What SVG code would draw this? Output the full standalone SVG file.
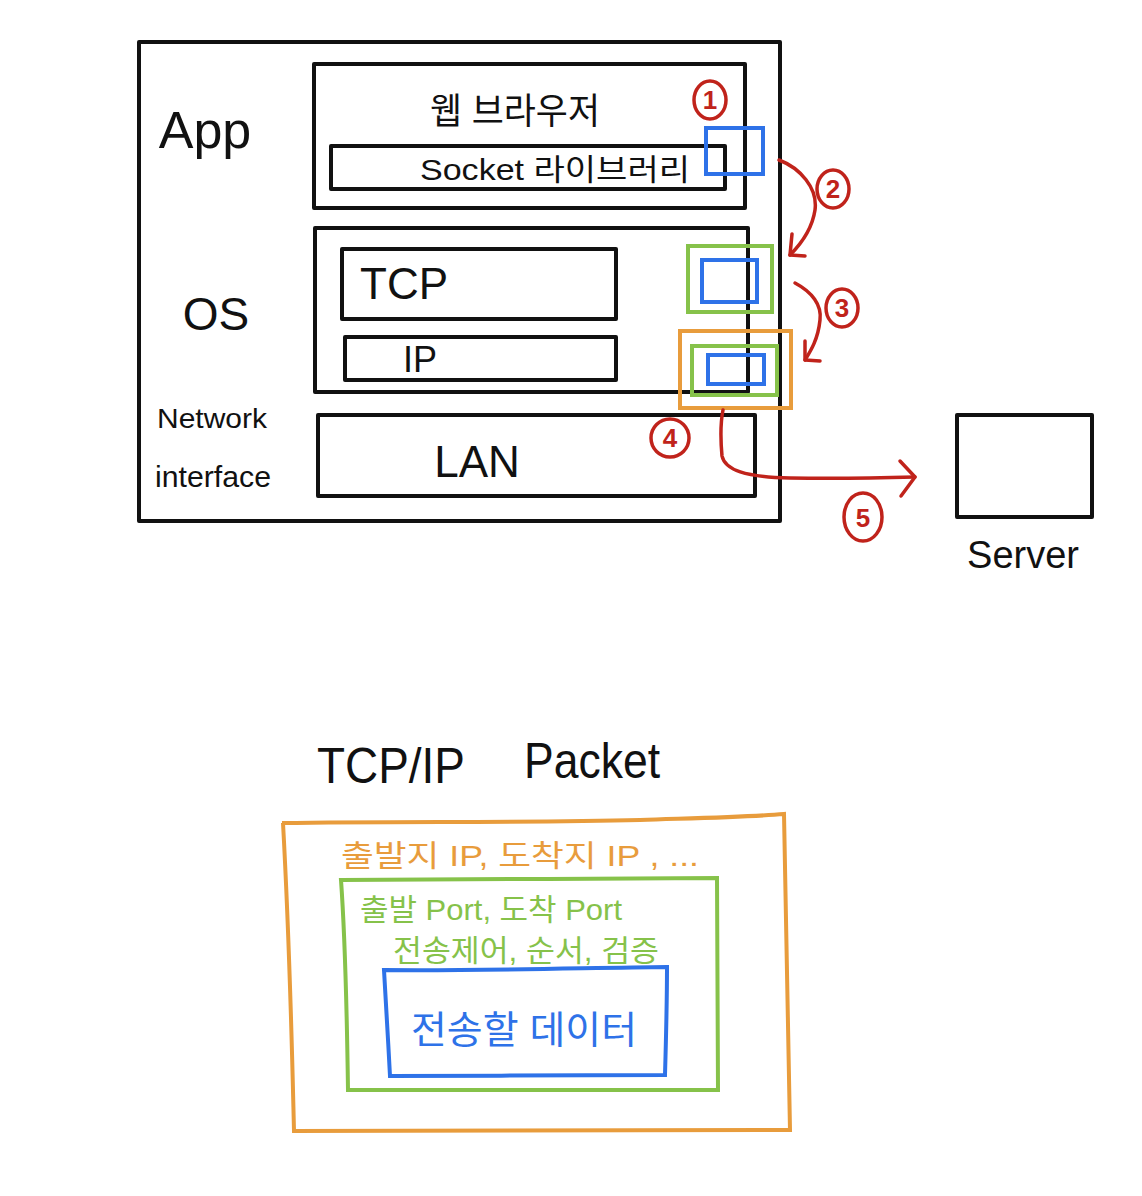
<svg xmlns="http://www.w3.org/2000/svg" width="1142" height="1196" viewBox="0 0 1142 1196">
<style>
.box{fill:none;stroke:#111;stroke-width:4;stroke-linejoin:round}
.blue{fill:none;stroke:#2E72E8;stroke-width:4}
.green{fill:none;stroke:#86C24A;stroke-width:4}
.orange{fill:none;stroke:#E89C3C;stroke-width:4}
.red{fill:none;stroke:#C0231B;stroke-width:3.5;stroke-linecap:round;stroke-linejoin:round}
.t{font-family:"Liberation Sans","Noto Sans CJK KR",sans-serif;fill:#111;text-anchor:middle}
.num{font-family:"Liberation Sans",sans-serif;fill:#C0231B;font-size:26px;text-anchor:middle;font-weight:bold}
</style>
<rect width="1142" height="1196" fill="#fff"/>

<g id="host">
  <rect class="box" x="139" y="42" width="641" height="479"/>
  <text class="t" x="205" y="148" font-size="52">App</text>
  <text class="t" x="216" y="330" font-size="46">OS</text>
  <text class="t" x="212" y="428" font-size="28" textLength="110" lengthAdjust="spacingAndGlyphs">Network</text>
  <text class="t" x="213" y="487" font-size="30" textLength="116" lengthAdjust="spacingAndGlyphs">interface</text>
</g>

<g id="app">
  <rect class="box" x="314" y="64" width="431" height="144"/>
  <text class="t" x="515" y="124" font-size="36" textLength="170" lengthAdjust="spacingAndGlyphs">웹 브라우저</text>
</g>
<g id="socket">
  <rect class="box" x="331" y="146" width="394" height="43"/>
  <text class="t" x="555" y="180" font-size="30" textLength="270" lengthAdjust="spacingAndGlyphs">Socket 라이브러리</text>
</g>

<g id="os">
  <rect class="box" x="315" y="228" width="433" height="164"/>
</g>
<g id="tcp">
  <rect class="box" x="342" y="249" width="274" height="70"/>
  <text class="t" x="404" y="299" font-size="44">TCP</text>
</g>
<g id="ip">
  <rect class="box" x="345" y="337" width="271" height="43"/>
  <text class="t" x="420" y="372" font-size="36">IP</text>
</g>
<g id="lan">
  <rect class="box" x="318" y="415" width="437" height="81"/>
  <text class="t" x="477" y="477" font-size="44">LAN</text>
</g>

<g id="server">
  <rect class="box" x="957" y="415" width="135" height="102"/>
  <text class="t" x="1023" y="568" font-size="38">Server</text>
</g>

<g id="markers">
  <rect class="blue" x="706" y="128" width="57" height="46"/>
  <rect class="green" x="688" y="246" width="84" height="66"/>
  <rect class="blue" x="702" y="260" width="55" height="42"/>
  <rect class="orange" x="680" y="331" width="111" height="77"/>
  <rect class="green" x="692" y="346" width="85" height="49"/>
  <rect class="blue" x="708" y="355" width="56" height="29"/>
</g>

<g id="connectors">
  <path class="red" d="M779 160 C800 168 818 188 815 210 C812 230 800 245 790 255"/>
  <path class="red" d="M792 234 L790 255 L805 256"/>
  <path class="red" d="M795 283 C812 292 822 305 820 320 C818 340 810 352 805 360"/>
  <path class="red" d="M805 341 L805 360 L820 361"/>
  <path class="red" d="M723 410 C720 425 721 445 722 456 C725 470 745 477 790 478 C840 479 880 478 915 477"/>
  <path class="red" d="M900 461 L915 477 L901 496"/>
</g>

<g id="step1"><ellipse class="red" cx="710" cy="100" rx="16" ry="19"/><text class="num" x="710" y="109">1</text></g>
<g id="step2"><ellipse class="red" cx="833" cy="189" rx="16" ry="19"/><text class="num" x="833" y="198">2</text></g>
<g id="step3"><ellipse class="red" cx="842" cy="308" rx="16" ry="19"/><text class="num" x="842" y="317">3</text></g>
<g id="step4"><ellipse class="red" cx="670" cy="438" rx="19" ry="19"/><text class="num" x="670" y="447">4</text></g>
<g id="step5"><ellipse class="red" cx="863" cy="517" rx="19" ry="24"/><text class="num" x="863" y="527">5</text></g>

<g id="packet-title">
  <text class="t" x="391" y="783" font-size="50" textLength="148" lengthAdjust="spacingAndGlyphs">TCP/IP</text>
  <text class="t" x="592" y="778" font-size="50" textLength="136" lengthAdjust="spacingAndGlyphs">Packet</text>
</g>

<g id="ip-header">
  <path class="orange" d="M282 823 C400 821 520 823 640 820 C700 818 750 817 784 814 C786 900 788 1000 790 1130 C700 1131 500 1131 294 1131 C292 1050 290 950 283 823 Z"/>
  <text class="t" x="520" y="866" font-size="30" style="fill:#E89C3C" textLength="358" lengthAdjust="spacingAndGlyphs">출발지 IP, 도착지 IP , ...</text>
</g>
<g id="tcp-header">
  <path class="green" d="M341 880 C450 879 600 879 717 878 C718 950 718 1020 718 1090 C600 1091 480 1091 348 1090 C347 1020 346 950 341 880 Z"/>
  <text class="t" x="491" y="920" font-size="30" style="fill:#86C24A" textLength="262" lengthAdjust="spacingAndGlyphs">출발 Port, 도착 Port</text>
  <text class="t" x="526" y="961" font-size="30" style="fill:#86C24A" textLength="266" lengthAdjust="spacingAndGlyphs">전송제어, 순서, 검증</text>
</g>
<g id="data">
  <path class="blue" d="M384 970 C480 971 580 968 667 967 C667 1000 666 1040 665 1075 C580 1075 480 1076 390 1076 C388 1040 386 1000 384 970 Z"/>
  <text class="t" x="524" y="1043" font-size="38" style="fill:#2E72E8" textLength="226" lengthAdjust="spacingAndGlyphs">전송할 데이터</text>
</g>
</svg>
